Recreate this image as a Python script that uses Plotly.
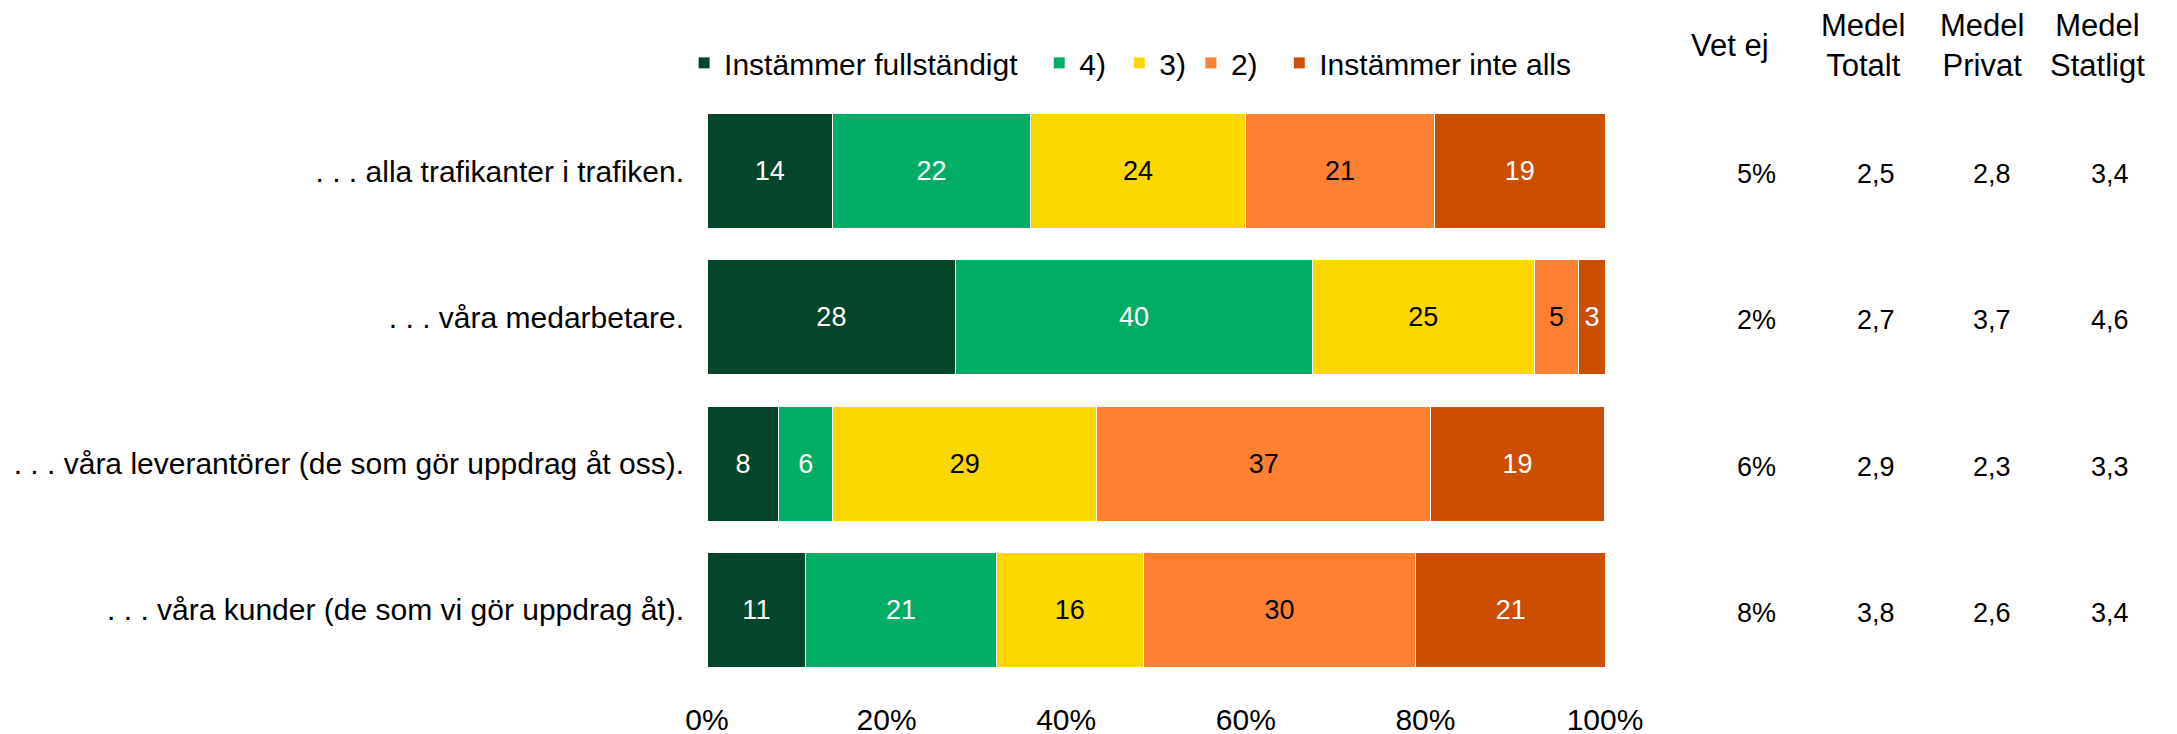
import plotly.graph_objects as go

# statements (top to bottom)
categories = [
    ". . . alla trafikanter i trafiken.",
    ". . . våra medarbetare.",
    ". . . våra leverantörer (de som gör uppdrag åt oss).",
    ". . . våra kunder (de som vi gör uppdrag åt).",
]

# share of answers per level, percent
series_names = ["Instämmer fullständigt", "4)", "3)", "2)", "Instämmer inte alls"]
instammer_fullt = [14, 27.7, 8.0, 11.0]
niva_4 = [22, 39.7, 6.0, 21.2]
niva_3 = [24, 24.7, 29.4, 16.4]
niva_2 = [21, 5.0, 37.2, 30.3]
instammer_inte = [19, 2.9, 19.3, 21.2]

# right hand table
table_headers = ["Vet ej", "Medel<br>Totalt", "Medel<br>Privat", "Medel<br>Statligt"]
vet_ej = ["5%", "2%", "6%", "8%"]
medel_totalt = ["2,5", "2,7", "2,9", "3,8"]
medel_privat = ["2,8", "3,7", "2,3", "2,6"]
medel_statligt = ["3,4", "4,6", "3,3", "3,4"]

x_ticks = [0, 20, 40, 60, 80, 100]
x_ticktext = ["0%", "20%", "40%", "60%", "80%", "100%"]

colors = ["#03462A", "#00AD65", "#FDD700", "#FE8033", "#CC4E00"]
text_colors = ["white", "white", "black", "black", "white"]
# extra spacing after each legend entry (non-breaking spaces)
legend_pad = [2, 1, 0, 2, 0]

FONT = "Liberation Sans, Arial, sans-serif"

fig = go.Figure()
all_series = [instammer_fullt, niva_4, niva_3, niva_2, instammer_inte]
for name, vals, col, tcol, pad in zip(series_names, all_series, colors, text_colors, legend_pad):
    fig.add_trace(go.Bar(
        y=categories, x=vals, name=name + "\u00a0" * pad, orientation="h",
        marker=dict(color=col, line=dict(color="white", width=1)),
        text=vals, texttemplate="%{x:.0f}", textposition="inside",
        insidetextanchor="middle", textangle=0, constraintext="none",
        textfont=dict(family=FONT, size=27, color=tcol),
        hoverinfo="skip",
    ))

# table columns: header x / value x in paper units (relative to plot width)
header_x = [1.139, 1.287, 1.420, 1.548]
value_x = [1.169, 1.302, 1.431, 1.562]
columns = [vet_ej, medel_totalt, medel_privat, medel_statligt]

annotations = []
for hdr, hx in zip(table_headers, header_x):
    annotations.append(dict(
        text=hdr, x=hx, y=1.089, xref="paper", yref="paper",
        xanchor="center", yanchor="middle", align="center", showarrow=False,
        font=dict(family=FONT, size=31, color="black"),
    ))
for col_vals, vx in zip(columns, value_x):
    for cat, v in zip(categories, col_vals):
        annotations.append(dict(
            text=v, x=vx, y=cat, xref="paper", yref="y",
            xanchor="center", yanchor="middle", showarrow=False, yshift=-3,
            font=dict(family=FONT, size=27, color="black"),
        ))

fig.update_layout(
    barmode="stack",
    bargap=0.215,
    width=2177, height=734,
    margin=dict(l=699, r=580, t=90, b=59),
    paper_bgcolor="white", plot_bgcolor="white",
    font=dict(family=FONT, color="black"),
    legend=dict(
        orientation="h", x=-0.0255, xanchor="left", y=1.060, yanchor="middle",
        font=dict(family=FONT, size=30, color="black"),
        traceorder="normal", itemwidth=30, bgcolor="rgba(0,0,0,0)",
    ),
    annotations=annotations,
    showlegend=True,
)
fig.update_xaxes(
    range=[0, 100], tickvals=x_ticks, ticktext=x_ticktext,
    showgrid=False, zeroline=False, showline=False, ticks="",
    tickfont=dict(family=FONT, size=30, color="black"),
    ticklabelstandoff=16, automargin=False,
)
fig.update_yaxes(
    autorange="reversed", showgrid=False, zeroline=False, showline=False,
    ticks="", tickfont=dict(family=FONT, size=30, color="black"),
    ticklabelstandoff=22, automargin=False,
)

fig.write_html("out.html")
